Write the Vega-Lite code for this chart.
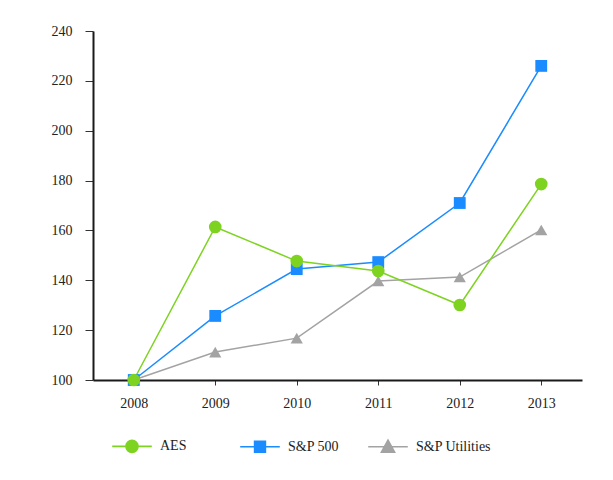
{
  "$schema": "https://vega.github.io/schema/vega-lite/v6.json",
  "autosize": "none",
  "padding": {"left": 93, "top": 31, "right": 31, "bottom": 100},
  "width": 489,
  "height": 349,
  "background": "white",
  "config": {"view": {"stroke": null}, "font": "Liberation Serif"},
  "data": {"values": [
    {"series": "S&P Utilities", "year": "2008", "value": 100},
    {"series": "S&P Utilities", "year": "2009", "value": 111.2},
    {"series": "S&P Utilities", "year": "2010", "value": 116.8},
    {"series": "S&P Utilities", "year": "2011", "value": 139.7},
    {"series": "S&P Utilities", "year": "2012", "value": 141.3},
    {"series": "S&P Utilities", "year": "2013", "value": 160.2},
    {"series": "S&P 500", "year": "2008", "value": 100},
    {"series": "S&P 500", "year": "2009", "value": 125.7},
    {"series": "S&P 500", "year": "2010", "value": 144.5},
    {"series": "S&P 500", "year": "2011", "value": 147.3},
    {"series": "S&P 500", "year": "2012", "value": 171},
    {"series": "S&P 500", "year": "2013", "value": 226},
    {"series": "AES", "year": "2008", "value": 100},
    {"series": "AES", "year": "2009", "value": 161.4},
    {"series": "AES", "year": "2010", "value": 147.7},
    {"series": "AES", "year": "2011", "value": 143.7},
    {"series": "AES", "year": "2012", "value": 130.1},
    {"series": "AES", "year": "2013", "value": 178.6}
  ]},
  "encoding": {
    "x": {
      "field": "year", "type": "ordinal",
      "scale": {"type": "point", "padding": 0.5},
      "axis": {
        "title": null, "labelAngle": 0, "domainColor": "#1a1a1a", "domainWidth": 2,
        "tickColor": "#333", "tickSize": 5, "tickWidth": 1,
        "labelFont": "Liberation Serif", "labelFontSize": 14, "labelColor": "#222",
        "labelPadding": 11, "grid": false
      }
    },
    "y": {
      "field": "value", "type": "quantitative",
      "scale": {"domain": [100, 240], "nice": false, "zero": false},
      "axis": {
        "title": null, "values": [100, 120, 140, 160, 180, 200, 220, 240],
        "domainColor": "#1a1a1a", "domainWidth": 2,
        "tickColor": "#333", "tickSize": 8, "tickWidth": 1,
        "labelFont": "Liberation Serif", "labelFontSize": 14, "labelColor": "#222",
        "labelPadding": 13, "grid": false
      }
    },
    "color": {
      "field": "series", "type": "nominal",
      "scale": {"domain": ["AES", "S&P 500", "S&P Utilities"], "range": ["#7ed321", "#1a8cff", "#a3a3a3"]},
      "legend": {
        "title": null, "orient": "none", "legendX": 32, "legendY": 408,
        "direction": "horizontal", "columns": 3, "gridAlign": "all", "columnPadding": 1,
        "symbolSize": 144, "labelOffset": 21,
        "labelFont": "Liberation Serif", "labelFontSize": 14, "labelColor": "#222",
        "encode": {
          "symbols": {
            "update": {
              "shape": {"signal": "datum.value == 'AES' ? 'M-3.3,0H3.3M1,0A1,1,0,1,1,-1,0A1,1,0,1,1,1,0Z' : datum.value == 'S&P 500' ? 'M-3.3,0H3.3M-0.9,-0.9H0.9V0.9H-0.9Z' : 'M-3.3,0H3.3M0,-1.1L1.1,0.9H-1.1Z'"},
              "stroke": {"scale": "color", "field": "value"},
              "strokeWidth": {"value": 1.6},
              "fill": {"scale": "color", "field": "value"},
              "opacity": {"value": 1}
            }
          }
        }
      }
    }
  },
  "layer": [
    {
      "mark": {"type": "line", "strokeWidth": 1.5}
    },
    {
      "transform": [{"filter": "datum.series == 'S&P Utilities'"}],
      "mark": {"type": "point", "filled": true, "opacity": 1, "size": 150, "shape": "triangle-up"}
    },
    {
      "transform": [{"filter": "datum.series == 'S&P 500'"}],
      "mark": {"type": "point", "filled": true, "opacity": 1, "size": 140, "shape": "square"}
    },
    {
      "transform": [{"filter": "datum.series == 'AES'"}],
      "mark": {"type": "point", "filled": true, "opacity": 1, "size": 160, "shape": "circle"}
    }
  ]
}
